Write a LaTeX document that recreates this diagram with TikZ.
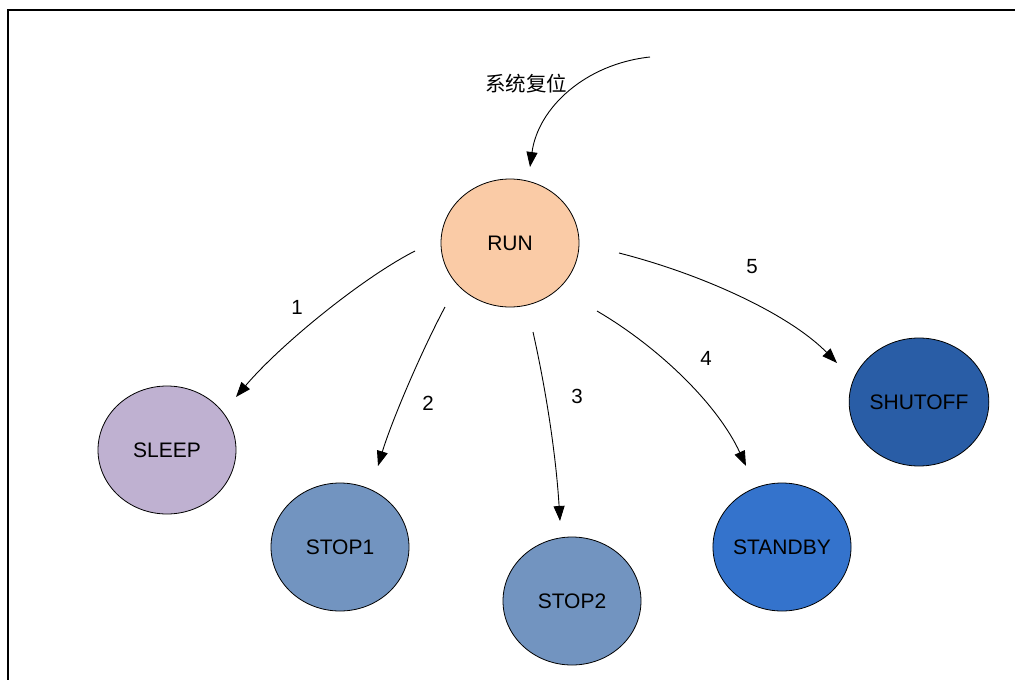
\documentclass[tikz,border=0pt]{standalone}
\usepackage{fontspec}
\setmainfont{Liberation Sans}
\newfontfamily\cjk{Noto Sans CJK SC}
\usetikzlibrary{shapes.geometric,arrows.meta}

\definecolor{runfill}{HTML}{FACBA6}
\definecolor{sleepfill}{HTML}{BFB1D1}
\definecolor{stopfill}{HTML}{7294C0}
\definecolor{standbyfill}{HTML}{3473CC}
\definecolor{shutofffill}{HTML}{295DA6}

\tikzset{
  state/.style={ellipse, draw=black, line width=0.8pt, minimum width=138pt,
    minimum height=128pt, inner sep=0pt, font=\fontsize{21}{24}\selectfont},
  trans/.style={draw=black, line width=0.9pt,
    -{Triangle[length=15pt,width=11pt]}},
  tlabel/.style={font=\fontsize{20.5}{24}\selectfont, inner sep=0pt},
  frame/.style={line width=2.2pt}
}

\begin{document}
\begin{tikzpicture}[x=1pt,y=-1pt]
  \useasboundingbox (0,0) rectangle (1015,680);

  % outer frame (open on the right and bottom)
  \draw[frame] (8,680) -- (8,10) -- (1016,10);

  % states
  \node[state, fill=runfill]     (run)     at (510,243) {RUN};
  \node[state, fill=sleepfill]   (sleep)   at (167,450) {SLEEP};
  \node[state, fill=stopfill]    (stop1)   at (340,547) {STOP1};
  \node[state, fill=stopfill]    (stop2)   at (572,601) {STOP2};
  \node[state, fill=standbyfill] (standby) at (782,547) {STANDBY};
  \node[state, fill=shutofffill] (shutoff) at (919,402) {SHUTOFF};

  % end points of the transitions
  \coordinate (r0) at (650,57);   \coordinate (r1) at (530,167);
  \coordinate (a0) at (415,251);  \coordinate (a1) at (236,397);
  \coordinate (b0) at (445,307);  \coordinate (b1) at (378,466);
  \coordinate (c0) at (533,332);  \coordinate (c1) at (560,521);
  \coordinate (d0) at (597,311);  \coordinate (d1) at (746,466);
  \coordinate (e0) at (619,253);  \coordinate (e1) at (837,363);

  % system reset entry
  \draw[trans] (r0) .. controls (585,64) and (538,108) .. (r1);
  \node[font=\cjk\fontsize{20.5}{24}\selectfont, inner sep=0pt] (reset) at (526,84) {系统复位};

  % transitions out of RUN
  \draw[trans] (a0) .. controls (362,278) and (280,345) .. (a1);
  \draw[trans] (b0) .. controls (422,350) and (392,420) .. (b1);
  \draw[trans] (c0) .. controls (546,390) and (556,455) .. (c1);
  \draw[trans] (d0) .. controls (660,348) and (718,405) .. (d1);
  \draw[trans] (e0) .. controls (705,275) and (790,315) .. (e1);

  % transition numbers
  \node[tlabel] (n1) at (297,307) {1};
  \node[tlabel] (n2) at (428,403) {2};
  \node[tlabel] (n3) at (577,396) {3};
  \node[tlabel] (n4) at (706,358) {4};
  \node[tlabel] (n5) at (752,267) {5};
\end{tikzpicture}
\end{document}
